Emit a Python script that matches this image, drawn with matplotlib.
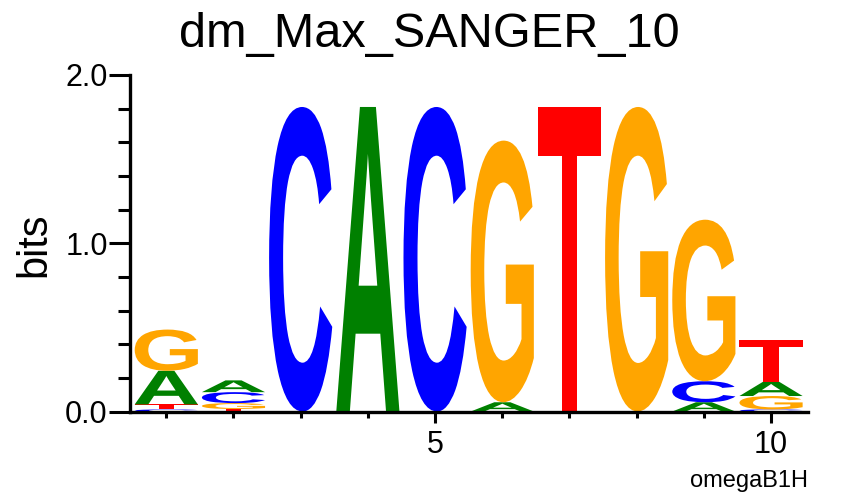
import numpy as np
import matplotlib
matplotlib.use('Agg')
import matplotlib.pyplot as plt
from matplotlib.textpath import TextPath
from matplotlib.patches import PathPatch
from matplotlib.font_manager import FontProperties
from matplotlib.transforms import Affine2D
from matplotlib.ticker import MultipleLocator, FixedLocator

plt.rcParams['font.family'] = ['Liberation Sans', 'DejaVu Sans']

# Information content (bits) of each base per position
positions = np.arange(1, 11)
bits_A = [0.20, 0.07, 0.0, 1.81, 0.0, 0.055, 0.0, 0.0, 0.055, 0.085]
bits_C = [0.012, 0.065, 1.81, 0.0, 1.81, 0.0, 0.0, 0.0, 0.125, 0.012]
bits_G = [0.245, 0.035, 0.0, 0.0, 0.0, 1.555, 0.0, 1.81, 0.96, 0.08]
bits_T = [0.03, 0.015, 0.0, 0.0, 0.0, 0.0, 1.81, 0.0, 0.0, 0.245]

colors = {'A': '#008000', 'C': '#0000ff', 'G': '#ffa500', 'T': '#ff0000'}
letter_font = FontProperties(family='Liberation Sans', weight='bold')


def draw_letter(ax, letter, xc, y0, width, height, color):
    path = TextPath((0, 0), letter, size=1, prop=letter_font)
    ext = path.get_extents()
    tr = (Affine2D()
          .translate(-ext.x0, -ext.y0)
          .scale(width / ext.width, height / ext.height)
          .translate(xc - width / 2, y0))
    ax.add_patch(PathPatch(tr.transform_path(path), facecolor=color,
                           edgecolor='none', lw=0))


fig = plt.figure(figsize=(8.58, 4.96), dpi=100)
ax = fig.add_axes([130 / 858, 1 - 411.5 / 496, 678 / 858, 336.5 / 496])

table = {'A': bits_A, 'C': bits_C, 'G': bits_G, 'T': bits_T}
for i, pos in enumerate(positions):
    # smallest letter at the bottom of each stack
    stack = sorted(((table[b][i], b) for b in 'ACGT'), key=lambda t: t[0])
    y = 0.0
    for h, b in stack:
        if h <= 0:
            continue
        draw_letter(ax, b, pos, y, 0.94, h, colors[b])
        y += h

ax.set_xlim(0.46, 10.55)
ax.set_ylim(0, 2.0)

for s in ['top', 'right']:
    ax.spines[s].set_visible(False)
for s in ['left', 'bottom']:
    ax.spines[s].set_linewidth(2.4)

ax.yaxis.set_major_locator(FixedLocator([0, 1, 2]))
ax.set_yticklabels(['0.0', '1.0', '2.0'])
ax.yaxis.set_minor_locator(MultipleLocator(0.2))
ax.xaxis.set_major_locator(FixedLocator([5, 10]))
ax.xaxis.set_minor_locator(FixedLocator(positions))
ax.tick_params(axis='y', which='major', length=15, width=2.2, labelsize=22, pad=1)
ax.tick_params(axis='y', which='minor', length=8.5, width=2.2)
ax.tick_params(axis='x', which='major', length=8, width=2.2, labelsize=22, pad=5)
ax.tick_params(axis='x', which='minor', length=4, width=2.2)

fig.text(0.5, 1 - 47 / 496, 'dm_Max_SANGER_10', ha='center', va='baseline', fontsize=35)
fig.text(34 / 858, 1 - 245 / 496, 'bits', rotation=90, ha='center', va='center', fontsize=30)
fig.text(808 / 858, 1 - 481 / 496, 'omegaB1H', ha='right', va='center', fontsize=17)

fig.savefig('out.png', dpi=100)
